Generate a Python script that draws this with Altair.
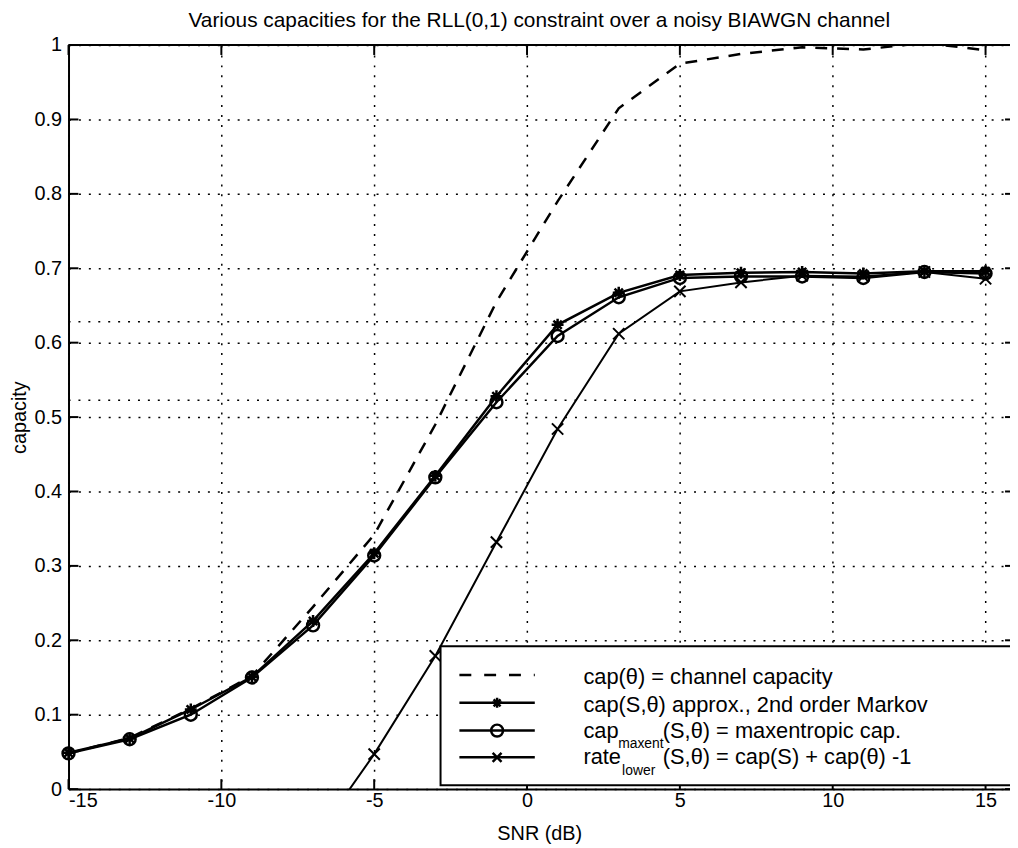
import altair as alt
import pandas as pd

# ---------------- data ----------------
snr = [-15, -13, -11, -9, -7, -5, -3, -1, 1, 3, 5, 7, 9, 11, 13, 15]
cap_channel = [0.048, 0.069, 0.108, 0.152, 0.245, 0.342, 0.490, 0.655, 0.790,
               0.915, 0.975, 0.988, 0.997, 0.994, 1.003, 0.993]
cap_markov = [0.049, 0.068, 0.107, 0.151, 0.226, 0.317, 0.421, 0.528, 0.624,
              0.667, 0.691, 0.694, 0.695, 0.693, 0.696, 0.696]
cap_maxent = [0.048, 0.067, 0.100, 0.150, 0.220, 0.314, 0.419, 0.520, 0.609,
              0.661, 0.687, 0.689, 0.689, 0.687, 0.695, 0.693]
snr_lower = [-7, -5, -3, -1, 1, 3, 5, 7, 9, 11, 13, 15]
rate_lower = [-0.070, 0.047, 0.179, 0.332, 0.484, 0.612, 0.669, 0.681, 0.690,
              0.689, 0.695, 0.686]

x_ticks = [-15, -10, -5, 0, 5, 10, 15]
y_ticks = [0, 0.1, 0.2, 0.3, 0.4, 0.5, 0.6, 0.7, 0.8, 0.9, 1]
extra_dotted_y = [0.628, 0.5225]   # stray dotted lines in the original figure
extra_dotted_x = [-15, 14.8]

title_text = "Various capacities for the RLL(0,1) constraint over a noisy BIAWGN channel"
legend_labels = ["cap(\u03b8) = channel capacity",
                 "cap(S,\u03b8) approx., 2nd order Markov",
                 "(S,\u03b8) = maxentropic cap.",
                 "(S,\u03b8) = cap(S) + cap(\u03b8) -1"]

FONT = "Liberation Sans"
W, H = 949, 750
XDOM = [-15, 15.8]

ASTER = "M-1,0L1,0M0,-1L0,1M-0.7,-0.7L0.7,0.7M-0.7,0.7L0.7,-0.7"
XSHAPE = "M-1,-1L1,1M-1,1L1,-1"

df_ch = pd.DataFrame({"snr": snr, "cap": cap_channel})
df_mk = pd.DataFrame({"snr": snr, "cap": cap_markov})
df_me = pd.DataFrame({"snr": snr, "cap": cap_maxent})
df_lo = pd.DataFrame({"snr": snr_lower, "cap": rate_lower})
df_xt = pd.DataFrame({"snr": x_ticks})
df_yt = pd.DataFrame({"cap": y_ticks})
df_extra = pd.DataFrame([{"snr": extra_dotted_x[0], "snr2": extra_dotted_x[1], "cap": v}
                         for v in extra_dotted_y])
one = pd.DataFrame({"k": [0]})

xs = alt.Scale(domain=XDOM, nice=False, zero=False)
ys = alt.Scale(domain=[0, 1], nice=False, zero=False)

X = alt.X("snr:Q", scale=xs, title="SNR (dB)",
          axis=alt.Axis(values=x_ticks, labelExpr="'' + datum.value"))
Y = alt.Y("cap:Q", scale=ys, title="capacity",
          axis=alt.Axis(values=y_ticks, format="~g"))

# base layer carrying axes + grid
base = alt.Chart(df_ch).mark_line(opacity=0).encode(x=X, y=Y)

extra = alt.Chart(df_extra).mark_rule(color="black", strokeWidth=1.5,
                                      strokeDash=[2, 8]).encode(
    x=alt.X("snr:Q", scale=xs), x2="snr2:Q", y=alt.Y("cap:Q", scale=ys))

ch_line = alt.Chart(df_ch).mark_line(color="black", strokeWidth=2.5,
                                     strokeDash=[12, 10], clip=True).encode(
    x=alt.X("snr:Q", scale=xs), y=alt.Y("cap:Q", scale=ys))

mk_line = alt.Chart(df_mk).mark_line(color="black", strokeWidth=2.5).encode(
    x=alt.X("snr:Q", scale=xs), y=alt.Y("cap:Q", scale=ys))
mk_pts = alt.Chart(df_mk).mark_point(shape=ASTER, size=144, filled=False,
                                     color="black", strokeWidth=2.5, opacity=1).encode(
    x=alt.X("snr:Q", scale=xs), y=alt.Y("cap:Q", scale=ys))

me_line = alt.Chart(df_me).mark_line(color="black", strokeWidth=2.5).encode(
    x=alt.X("snr:Q", scale=xs), y=alt.Y("cap:Q", scale=ys))
me_pts = alt.Chart(df_me).mark_point(shape="circle", size=144, filled=False,
                                     color="black", strokeWidth=2.5, opacity=1).encode(
    x=alt.X("snr:Q", scale=xs), y=alt.Y("cap:Q", scale=ys))

lo_line = alt.Chart(df_lo).mark_line(color="black", strokeWidth=2, clip=True).encode(
    x=alt.X("snr:Q", scale=xs), y=alt.Y("cap:Q", scale=ys))
lo_pts = alt.Chart(df_lo).mark_point(shape=XSHAPE, size=130, filled=False,
                                     color="black", strokeWidth=2, opacity=1,
                                     clip=True).encode(
    x=alt.X("snr:Q", scale=xs), y=alt.Y("cap:Q", scale=ys))

# inward tick marks on all four sides
TL = 10
tick_b = alt.Chart(df_xt).mark_rule(color="black", strokeWidth=2).encode(
    x=alt.X("snr:Q", scale=xs), y=alt.value(H), y2=alt.value(H - TL))
tick_t = alt.Chart(df_xt).mark_rule(color="black", strokeWidth=2).encode(
    x=alt.X("snr:Q", scale=xs), y=alt.value(0), y2=alt.value(TL))
tick_l = alt.Chart(df_yt).mark_rule(color="black", strokeWidth=2).encode(
    y=alt.Y("cap:Q", scale=ys), x=alt.value(0), x2=alt.value(TL))
tick_r = alt.Chart(df_yt).mark_rule(color="black", strokeWidth=2).encode(
    y=alt.Y("cap:Q", scale=ys), x=alt.value(W - 5), x2=alt.value(W))
top_border = alt.Chart(one).mark_rule(color="black", strokeWidth=2).encode(
    x=alt.value(0), x2=alt.value(W), y=alt.value(0))

# ---------------- legend ----------------
LX0, LY0, LY1 = 375, 606, 746
leg_box = alt.Chart(one).mark_rect(fill="white", stroke="black", strokeWidth=2).encode(
    x=alt.value(LX0), x2=alt.value(W + 8), y=alt.value(LY0), y2=alt.value(LY1))

rows = [635, 663, 691, 718]
SX0, SX1, SXM, TX = 394, 470, 432, 519
leg_layers = [leg_box]
leg_layers.append(alt.Chart(one).mark_rule(color="black", strokeWidth=2.5,
                                           strokeDash=[12, 13]).encode(
    x=alt.value(SX0), x2=alt.value(SX1), y=alt.value(rows[0])))
for r in rows[1:]:
    leg_layers.append(alt.Chart(one).mark_rule(color="black", strokeWidth=2.5).encode(
        x=alt.value(SX0), x2=alt.value(SX1), y=alt.value(r)))
leg_layers.append(alt.Chart(one).mark_point(shape=ASTER, size=100, filled=False,
                                            color="black", strokeWidth=2.5, opacity=1).encode(
    x=alt.value(SXM), y=alt.value(rows[1])))
leg_layers.append(alt.Chart(one).mark_point(shape="circle", size=144, filled=False,
                                            color="black", strokeWidth=2.5, opacity=1).encode(
    x=alt.value(SXM), y=alt.value(rows[2])))
leg_layers.append(alt.Chart(one).mark_point(shape=XSHAPE, size=80, filled=False,
                                            color="black", strokeWidth=2.5, opacity=1).encode(
    x=alt.value(SXM), y=alt.value(rows[3])))


def txt(s, x, y, size=22):
    return alt.Chart(one).mark_text(font=FONT, fontSize=size, align="left",
                                    baseline="alphabetic", color="black").encode(
        x=alt.value(x), y=alt.value(y), text=alt.value(s))


base_lines = [644, 672, 698, 725]
leg_layers += [
    txt(legend_labels[0], TX, base_lines[0]),
    txt(legend_labels[1], TX, base_lines[1]),
    txt("cap", TX, base_lines[2]),
    txt("maxent", TX + 35, base_lines[2] + 11, 14),
    txt(legend_labels[2], TX + 80, base_lines[2]),
    txt("rate", TX, base_lines[3]),
    txt("lower", TX + 39, base_lines[3] + 11, 14),
    txt(legend_labels[3], TX + 80, base_lines[3]),
]

chart = alt.layer(
    base, extra, ch_line, mk_line, me_line, lo_line, mk_pts, me_pts, lo_pts,
    tick_b, tick_t, tick_l, tick_r, top_border, *leg_layers
).properties(
    width=W, height=H,
    title=alt.Title(title_text, font=FONT, fontSize=21, fontWeight="normal",
                    anchor="middle", offset=4, color="black"),
    autosize=alt.AutoSizeParams(type="none"),
    padding={"left": 61, "top": 34, "right": 0, "bottom": 54},
).configure_view(stroke=None).configure_axis(
    labelFont=FONT, labelFontSize=20, labelColor="black",
    titleFont=FONT, titleFontSize=20, titleFontWeight="normal", titleColor="black",
    domainColor="black", domainWidth=2, ticks=False,
    grid=True, gridColor="black", gridDash=[2, 8], gridWidth=1.5, gridOpacity=1,
).configure_axisX(labelPadding=2, titlePadding=13).configure_axisY(
    labelPadding=7, titlePadding=5)

chart.save("out.html", embed_options={"renderer": "svg", "actions": False})
